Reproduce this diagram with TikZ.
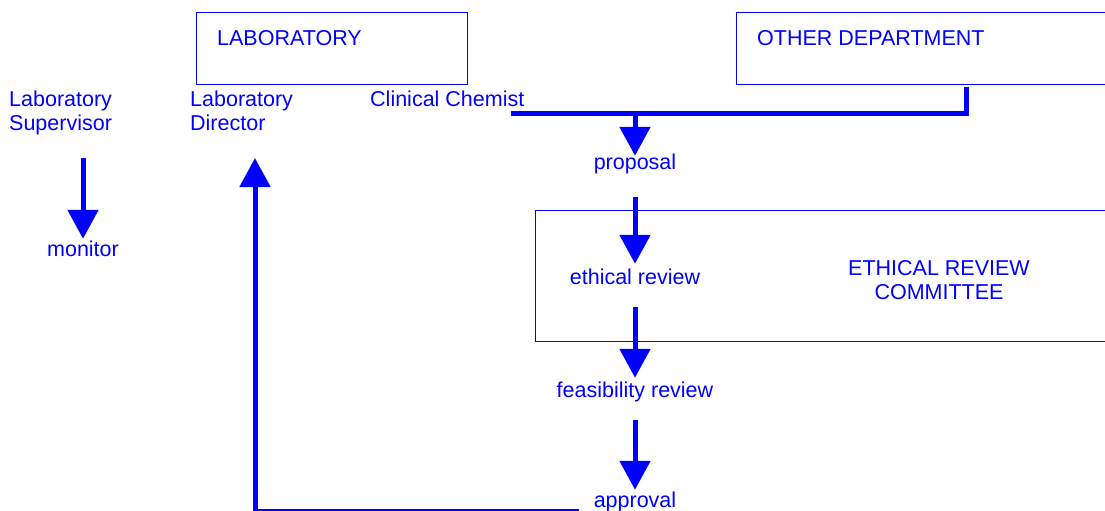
\documentclass[tikz,border=0pt]{standalone}
\usepackage{fontspec}
\setmainfont{Liberation Sans}
\usetikzlibrary{arrows.meta}

\tikzset{
	lbl/.style={text=blue, inner sep=0pt, font=\fontsize{21.5}{24}\selectfont},
	stage/.style={lbl, text height=15pt, text depth=4pt, anchor=base},
	box/.style={draw=blue, line width=1.3pt, inner sep=0pt, anchor=north west},
	bus/.style={draw=blue, line width=5pt},
	flow/.style={draw=blue, line width=5pt, -{Triangle[width=30pt,length=29pt]}},
}

\begin{document}
\begin{tikzpicture}[x=1pt,y=-1pt]
		\useasboundingbox (0,0) rectangle (1105,511);
		\clip (0,0) rectangle (1105,511);
		
		% 方框
		\node[box, minimum width=271pt, minimum height=72pt] (labbox) at (196,12) {};
		\node[box, minimum width=380pt, minimum height=72pt] (otherbox) at (736,12) {};
		\node[box, minimum width=580pt, minimum height=131pt] (ercbox) at (535,210) {};
		\node[lbl, anchor=base west] (lab) at (217,46) {LABORATORY};
		\node[lbl, anchor=base west] (other) at (757,46) {OTHER DEPARTMENT};
		\node[lbl, align=center] (erc) at (939,280) {ETHICAL REVIEW\\COMMITTEE};
		
		% 人员
		\node[lbl, align=left, anchor=north west] (sup) at (9,91) {Laboratory\\Supervisor};
		\node[lbl, align=left, anchor=north west] (dir) at (190,91) {Laboratory\\Director};
		\node[lbl, anchor=base west] (chem) at (370,106) {Clinical Chemist};
		
		% 步骤
		\node[stage] (mon) at (83,256) {monitor};
		\node[stage] (prop) at (635,169) {proposal};
		\node[stage] (eth) at (635,284) {ethical review};
		\node[stage] (feas) at (635,397) {feasibility review};
		\node[stage] (appr) at (635,507) {approval};
		
		\coordinate (busL) at (511,113);
		\coordinate (busR) at (966,87);
		\coordinate (ret) at (579,511);
		\coordinate (dirin) at (255,158);
		
		% 连线
		\draw[bus] (busL) -| (busR);
		\draw[flow, shorten >=-2pt] (busL -| prop) -- (prop.north);
		\draw[flow, shorten <=24pt, shorten >=5pt] (prop.south) -- (eth.north);
		\draw[flow, shorten <=19pt, shorten >=4pt] (eth.south) -- (feas.north);
		\draw[flow, shorten <=19pt, shorten >=2pt] (feas.south) -- (appr.north);
		\draw[flow, shorten <=23pt, shorten >=2pt] (sup.south -| mon) -- (mon.north);
		\draw[flow] (ret) -| (dirin);
		
	\end{tikzpicture}
\end{document}
